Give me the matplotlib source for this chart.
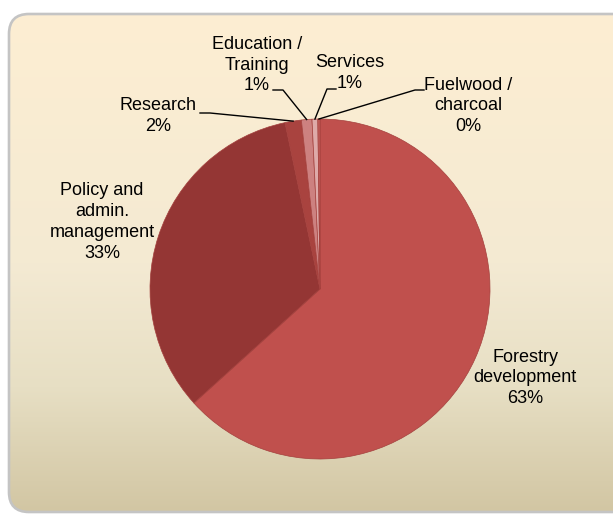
import matplotlib.pyplot as plt
import numpy as np
from matplotlib.patches import FancyBboxPatch
from matplotlib.colors import LinearSegmentedColormap

# data
categories = ['Forestry\ndevelopment', 'Policy and\nadmin.\nmanagement', 'Research',
              'Education /\nTraining', 'Services', 'Fuelwood /\ncharcoal']
shares = [63.3, 33.4, 1.55, 1.0, 0.55, 0.2]
colors = ['#C0504D', '#943634', '#A9433F', '#CD8180', '#DEAAA9', '#C4605D']

plt.rcParams['font.family'] = ['Liberation Sans', 'DejaVu Sans']

W, H = 613, 514
fig = plt.figure(figsize=(W / 100, H / 100), dpi=100)

# background panel with vertical gradient (pixel coords)
bg = fig.add_axes([0, 0, 1, 1])
bg.set_xlim(0, W)
bg.set_ylim(H, 0)
bg.axis('off')
cmap = LinearSegmentedColormap.from_list(
    'panel', [(0, '#FDEED2'), (0.5, '#F4EAD3'), (0.75, '#E7DFC4'), (1, '#D2C6A3')])
grad = np.linspace(0, 1, 256).reshape(-1, 1)
frame = FancyBboxPatch((9, 14), 660, 498, boxstyle='round,pad=0,rounding_size=20',
                       facecolor='none', edgecolor='#C4C4C4', linewidth=1.9, zorder=3)
bg.add_patch(frame)
im = bg.imshow(grad, cmap=cmap, aspect='auto', extent=(9, 669, 512, 14), zorder=1)
im.set_clip_path(frame)

# pie in its own axes: centre (320, 289) px, radius 170 px
cx, cy, R = 320, 289, 170
ax = fig.add_axes([0, 0, 1, 1])
ax.patch.set_alpha(0)
wedges, _ = ax.pie(shares, colors=colors, startangle=90, counterclock=False,
                   wedgeprops=dict(edgecolor='#A4403D', linewidth=0.5))
ax.set_xlim(-cx / R, (W - cx) / R)
ax.set_ylim((cy - H) / R, cy / R)
ax.set_aspect('auto')


def px(x, y):
    return (x - cx) / R, (cy - y) / R


label_pos = [(525, 378), (102, 222), (158, 116), (257, 65), (350, 73), (468, 106)]
# leader lines: text-side start and elbow (px), None = no leader
leaders = [None, None, [(200, 113), (210, 113)], [(273, 90), (283, 90)],
           [(336, 89), (327, 89)], [(424, 90), (415, 90)]]

for i, (cat, v) in enumerate(zip(categories, shares)):
    pct = v / sum(shares) * 100
    tx, ty = px(*label_pos[i])
    ax.text(tx, ty, f'{cat}\n{pct:.0f}%', ha='center', va='center',
            multialignment='center', fontsize=13, linespacing=1.3, color='#000000')
    if leaders[i]:
        w = wedges[i]
        th = np.deg2rad((w.theta1 + w.theta2) / 2)
        pts = [px(*p) for p in leaders[i]] + [(np.cos(th), np.sin(th))]
        xs, ys = zip(*pts)
        ax.plot(xs, ys, color='black', linewidth=1.0)

fig.savefig('out.png', dpi=100)
